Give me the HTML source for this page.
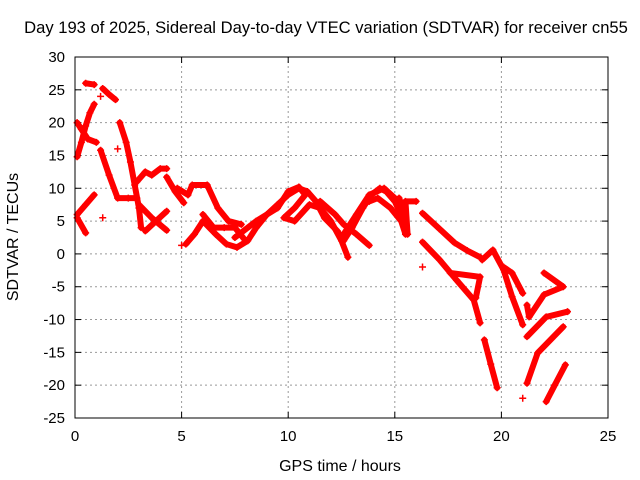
<!DOCTYPE html>
<html><head><meta charset="utf-8">
<style>
html,body{margin:0;padding:0;background:#fff;}
svg{display:block;font-family:"Liberation Sans",sans-serif;}
</style></head>
<body>
<svg id="chart" width="640" height="480" viewBox="0 0 640 480">
<text x="326" y="33" font-size="16.6" text-anchor="middle">Day 193 of 2025, Sidereal Day-to-day VTEC variation (SDTVAR) for receiver cn55</text>
<text x="340" y="471" font-size="16" text-anchor="middle">GPS time / hours</text>
<text x="0" y="0" font-size="16" text-anchor="middle" transform="translate(18,237) rotate(-90)">SDTVAR / TECUs</text>
<g id="grid"></g>
<g id="ticks"></g>
<g id="series"></g>
<rect x="75" y="57" width="533" height="361" fill="none" stroke="#000" stroke-width="1"/>
</svg>
<script>
const xTicks = [0,5,10,15,20,25];
const yTicks = [-25,-20,-15,-10,-5,0,5,10,15,20,25,30];
const track1 = [[0.1,14.8],[0.3,17],[0.5,19.5],[0.7,21.5],[0.9,22.8]];
const track2 = [[0.1,20],[0.3,19],[0.6,17.5],[1.0,17]];
const track3 = [[0.5,26],[0.9,25.8]];
const track4 = [[1.3,25.2],[1.6,24.3],[1.9,23.5]];
const track5 = [[2.1,20],[2.4,17],[2.6,14],[2.8,10.5],[3.0,7],[3.1,4]];
const track6 = [[2.9,11],[3.3,12.5],[3.6,12],[4.0,13],[4.3,13]];
const track7 = [[1.2,15.8],[1.6,12],[2.0,8.5],[2.5,8.5],[2.9,8.5]];
const track8 = [[0.1,6],[0.5,7.5],[0.9,9]];
const track9 = [[0.1,5.5],[0.5,3.2]];
const track10 = [[3.0,7.5],[3.6,5.5],[4.3,3.6]];
const track11 = [[3.3,3.5],[3.8,5],[4.3,6.5]];
const track12 = [[4.3,11.7],[4.7,9.5],[5.1,7.8]];
const track13 = [[5.2,1.5],[5.6,3],[6.0,5],[6.6,3],[7.1,1.5],[7.6,1],[8.1,2],[8.5,4],[9,6],[9.5,7.5],[10,9],[10.5,10],[10.9,9.5],[11.3,8],[11.7,5.5],[12.3,3.5],[12.6,2],[13,4],[13.5,7],[13.9,9],[14.3,10],[14.6,9.5],[15,8],[15.5,4.5]];
const track14 = [[4.8,10],[5.3,9],[5.5,10.5],[6.2,10.5],[6.7,7],[7.2,5],[7.8,4.5]];
const track15 = [[6.0,6],[6.5,4],[7.0,4],[7.5,4],[8,2]];
const track16 = [[7.5,2.5],[8.5,5],[9.5,7],[10,9.5],[10.5,10.2],[10.8,9],[10.3,7],[9.8,5.5],[10.3,5],[11,7.5],[11.5,7],[12,5],[12.5,2],[12.8,-0.5]];
const track17 = [[11.5,8],[12.2,6],[12.6,4.5],[13.2,3],[13.8,1.3]];
const track18 = [[12.6,3],[13.2,6],[13.8,9],[14.5,10],[15,8.5]];
const track19 = [[13.8,8],[14.2,8.5],[14.8,7],[15.3,5],[15.5,3]];
const track20 = [[15.2,8.5],[15.5,6],[15.6,3],[15.5,8],[16.0,8]];
const track21 = [[16.3,6.2],[17.1,3.8],[17.8,1.7],[18.4,0.5],[19.0,-0.5]];
const track22 = [[16.3,1.8],[17.1,-0.9],[17.9,-4],[18.7,-7],[19.0,-10.5]];
const track23 = [[17.6,-2.9],[19,-3.5],[18.8,-6.7]];
const track24 = [[19.1,-0.9],[19.6,0.6],[20.1,-2.4],[20.5,-6.5],[21.0,-10.8]];
const track25 = [[20.1,-2],[20.5,-2.9],[21,-6]];
const track26 = [[19.2,-13.1],[19.5,-16.8],[19.8,-20.4]];
const track27 = [[22,-2.9],[22.9,-5],[22,-6.2],[21.3,-9.6],[21.2,-7.8]];
const track28 = [[21.2,-12.6],[22.1,-9.6],[23.1,-8.8]];
const track29 = [[21.2,-19.7],[21.7,-15.1],[22.9,-11.1]];
const track30 = [[22.1,-22.5],[22.5,-20],[23,-16.9]];
const isolated = [[16.3,-2],[21,-22],[5,1.3],[1.3,5.5],[1.2,24],[2.0,16]];
const tracks = [track1,track2,track3,track4,track5,track6,track7,track8,track9,track10,track11,track12,track13,track14,track15,track16,track17,track18,track19,track20,track21,track22,track23,track24,track25,track26,track27,track28,track29,track30];

const X0=75,X1=608,Y0=418,Y1=57;
function sx(v){return X0+(v-0)/(25-0)*(X1-X0);}
function sy(v){return Y0-(v+25)/(30+25)*(Y0-Y1);}
const NS="http://www.w3.org/2000/svg";
const grid=document.getElementById('grid'),ticks=document.getElementById('ticks'),series=document.getElementById('series');
function mk(tag,attrs,parent){const e=document.createElementNS(NS,tag);for(const k in attrs)e.setAttribute(k,attrs[k]);parent.appendChild(e);return e;}
xTicks.forEach(t=>{
  const x=sx(t);
  if(t>0&&t<25){const g=mk('line',{x1:x,y1:Y0,x2:x,y2:Y1,stroke:'#999','stroke-dasharray':'2,3'},grid);
  
  }
  mk('line',{x1:x,y1:Y0,x2:x,y2:Y0-6,stroke:'#000'},ticks);
  mk('line',{x1:x,y1:Y1,x2:x,y2:Y1+6,stroke:'#000'},ticks);
  const l=mk('text',{x:x,y:Y0+23,'font-size':15,'text-anchor':'middle'},ticks);l.textContent=t;
  
  
});
yTicks.forEach(t=>{
  const y=sy(t);
  if(t>-25&&t<30){const g=mk('line',{x1:X0,y1:y,x2:X1,y2:y,stroke:'#999','stroke-dasharray':'2,3'},grid);
  
  }
  mk('line',{x1:X0,y1:y,x2:X0+6,y2:y,stroke:'#000'},ticks);
  mk('line',{x1:X1,y1:y,x2:X1-6,y2:y,stroke:'#000'},ticks);
  const l=mk('text',{x:X0-10,y:y+5,'font-size':15,'text-anchor':'end'},ticks);l.textContent=t;
  
  
});
function plus(x,y){
  const p=mk('path',{d:`M${x-3.5},${y}h7M${x},${y-3.5}v7`,stroke:'#f00','stroke-width':1.5,fill:'none'},series);
  
  
}
tracks.forEach(tr=>{
  const pl=mk('polyline',{points:tr.map(p=>sx(p[0])+','+sy(p[1])).join(' '),fill:'none',stroke:'#f00','stroke-width':6,'stroke-linejoin':'round','stroke-linecap':'round'},series);
  
  
  tr.forEach(p=>plus(sx(p[0]),sy(p[1])));
});
isolated.forEach(p=>plus(sx(p[0]),sy(p[1])));
</script>
</body></html>
